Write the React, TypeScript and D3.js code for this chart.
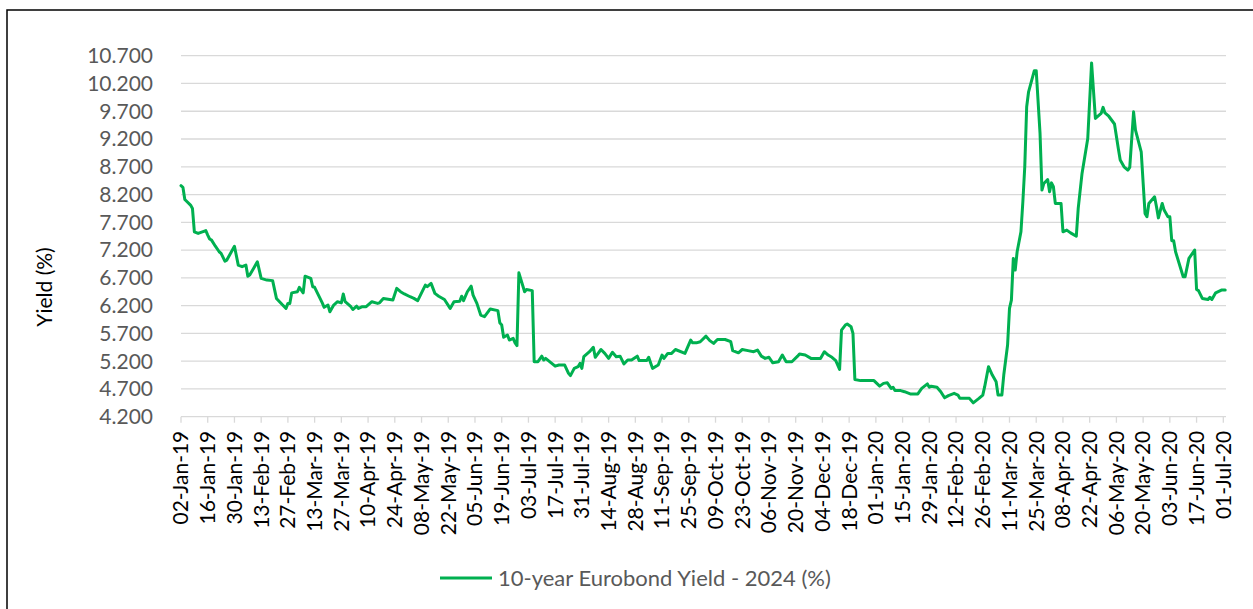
import React from "react";
import * as d3 from "d3";

// 10-year Eurobond (2024) yield, % — sampled closes
const obsDates: string[] = [
  "2019-01-02","2019-01-03","2019-01-04","2019-01-07","2019-01-08","2019-01-09","2019-01-11","2019-01-15","2019-01-16","2019-01-17",
  "2019-01-18","2019-01-20","2019-01-22","2019-01-23","2019-01-25","2019-01-26","2019-01-30","2019-02-01","2019-02-03","2019-02-05",
  "2019-02-06","2019-02-07","2019-02-09","2019-02-11","2019-02-13","2019-02-16","2019-02-19","2019-02-21","2019-02-24","2019-02-26",
  "2019-02-27","2019-02-28","2019-03-01","2019-03-04","2019-03-05","2019-03-07","2019-03-08","2019-03-11","2019-03-12","2019-03-13",
  "2019-03-15","2019-03-17","2019-03-18","2019-03-20","2019-03-21","2019-03-23","2019-03-25","2019-03-27","2019-03-28","2019-03-29",
  "2019-04-01","2019-04-02","2019-04-04","2019-04-05","2019-04-07","2019-04-09","2019-04-12","2019-04-15","2019-04-16","2019-04-18",
  "2019-04-23","2019-04-25","2019-04-27","2019-04-29","2019-05-02","2019-05-04","2019-05-06","2019-05-10","2019-05-11","2019-05-13",
  "2019-05-15","2019-05-17","2019-05-20","2019-05-23","2019-05-25","2019-05-28","2019-05-29","2019-05-30","2019-06-01","2019-06-03",
  "2019-06-04","2019-06-06","2019-06-08","2019-06-10","2019-06-13","2019-06-17","2019-06-18","2019-06-19","2019-06-20","2019-06-22",
  "2019-06-23","2019-06-25","2019-06-26","2019-06-27","2019-06-28","2019-07-01","2019-07-02","2019-07-05","2019-07-06","2019-07-08",
  "2019-07-10","2019-07-11","2019-07-12","2019-07-17","2019-07-19","2019-07-22","2019-07-24","2019-07-25","2019-07-27","2019-07-29",
  "2019-07-30","2019-07-31","2019-08-01","2019-08-04","2019-08-06","2019-08-07","2019-08-10","2019-08-12","2019-08-14","2019-08-16",
  "2019-08-18","2019-08-20","2019-08-22","2019-08-24","2019-08-26","2019-08-29","2019-08-30","2019-09-03","2019-09-04","2019-09-06",
  "2019-09-09","2019-09-11","2019-09-12","2019-09-14","2019-09-16","2019-09-18","2019-09-23","2019-09-26","2019-09-27","2019-09-29",
  "2019-10-01","2019-10-04","2019-10-06","2019-10-08","2019-10-10","2019-10-14","2019-10-17","2019-10-18","2019-10-21","2019-10-23",
  "2019-10-26","2019-10-29","2019-10-31","2019-11-02","2019-11-04","2019-11-06","2019-11-08","2019-11-11","2019-11-13","2019-11-15",
  "2019-11-18","2019-11-21","2019-11-22","2019-11-25","2019-11-28","2019-12-03","2019-12-05","2019-12-07","2019-12-09","2019-12-11",
  "2019-12-13","2019-12-14","2019-12-16","2019-12-17","2019-12-19","2019-12-20","2019-12-21","2019-12-24","2019-12-31","2020-01-03",
  "2020-01-05","2020-01-07","2020-01-09","2020-01-10","2020-01-11","2020-01-14","2020-01-16","2020-01-19","2020-01-23","2020-01-25",
  "2020-01-28","2020-01-29","2020-01-30","2020-02-02","2020-02-04","2020-02-06","2020-02-08","2020-02-11","2020-02-13","2020-02-14",
  "2020-02-19","2020-02-21","2020-02-24","2020-02-26","2020-02-27","2020-02-29","2020-03-02","2020-03-04","2020-03-05","2020-03-07",
  "2020-03-08","2020-03-10","2020-03-11","2020-03-12","2020-03-13","2020-03-14","2020-03-15","2020-03-17","2020-03-18","2020-03-19",
  "2020-03-20","2020-03-21","2020-03-24","2020-03-25","2020-03-27","2020-03-28","2020-03-29","2020-03-31","2020-04-01","2020-04-02",
  "2020-04-03","2020-04-04","2020-04-07","2020-04-08","2020-04-10","2020-04-12","2020-04-15","2020-04-16","2020-04-18","2020-04-21",
  "2020-04-23","2020-04-25","2020-04-28","2020-04-29","2020-04-30","2020-05-02","2020-05-05","2020-05-07","2020-05-08","2020-05-10",
  "2020-05-12","2020-05-13","2020-05-15","2020-05-16","2020-05-19","2020-05-21","2020-05-22","2020-05-23","2020-05-26","2020-05-27",
  "2020-05-28","2020-05-30","2020-05-31","2020-06-02","2020-06-03","2020-06-04","2020-06-05","2020-06-06","2020-06-10","2020-06-11",
  "2020-06-13","2020-06-16","2020-06-17","2020-06-18","2020-06-20","2020-06-23","2020-06-24","2020-06-25","2020-06-27","2020-06-30",
  "2020-07-02",
];

const yieldValues: number[] = [
  8.36,8.33,8.11,8.01,7.95,7.53,7.50,7.55,7.47,7.40,
  7.38,7.27,7.17,7.14,7.00,7.02,7.27,6.93,6.90,6.93,
  6.73,6.75,6.87,6.99,6.69,6.66,6.65,6.33,6.22,6.15,
  6.24,6.24,6.43,6.45,6.53,6.43,6.73,6.69,6.54,6.53,
  6.39,6.25,6.17,6.21,6.09,6.21,6.27,6.25,6.41,6.27,
  6.18,6.13,6.19,6.15,6.18,6.18,6.27,6.24,6.25,6.33,
  6.30,6.51,6.45,6.41,6.36,6.33,6.29,6.57,6.54,6.60,
  6.42,6.37,6.31,6.15,6.27,6.28,6.37,6.29,6.45,6.55,
  6.39,6.24,6.03,6.00,6.14,6.11,5.89,5.85,5.63,5.67,
  5.58,5.61,5.53,5.48,6.79,6.45,6.49,6.47,5.19,5.19,
  5.29,5.22,5.25,5.11,5.13,5.13,4.98,4.94,5.07,5.10,
  5.16,5.07,5.28,5.37,5.45,5.27,5.41,5.34,5.25,5.36,
  5.28,5.29,5.15,5.22,5.22,5.29,5.21,5.21,5.27,5.07,
  5.13,5.31,5.25,5.34,5.34,5.41,5.34,5.58,5.53,5.53,
  5.55,5.65,5.57,5.52,5.59,5.59,5.55,5.39,5.35,5.41,
  5.39,5.37,5.40,5.29,5.25,5.27,5.17,5.19,5.31,5.19,
  5.19,5.29,5.33,5.31,5.25,5.25,5.37,5.31,5.27,5.21,
  5.05,5.76,5.85,5.87,5.82,5.70,4.87,4.85,4.85,4.75,
  4.80,4.81,4.71,4.73,4.67,4.67,4.65,4.61,4.61,4.71,
  4.79,4.73,4.75,4.73,4.65,4.54,4.58,4.62,4.59,4.53,
  4.53,4.45,4.53,4.59,4.74,5.10,4.95,4.83,4.59,4.59,
  4.95,5.49,6.15,6.30,7.05,6.84,7.17,7.53,8.07,8.70,
  9.78,10.05,10.43,10.43,9.30,8.28,8.40,8.47,8.25,8.41,
  8.34,8.04,8.04,7.53,7.56,7.51,7.45,7.95,8.58,9.21,
  10.57,9.57,9.66,9.77,9.67,9.61,9.47,9.03,8.82,8.70,
  8.64,8.69,9.69,9.36,8.97,7.86,7.80,8.04,8.16,7.98,
  7.78,8.04,7.92,7.80,7.80,7.37,7.37,7.17,6.72,6.72,
  7.05,7.20,6.49,6.47,6.33,6.31,6.35,6.31,6.43,6.48,
  6.48,
];

const yTickValues: number[] = [4.2, 4.7, 5.2, 5.7, 6.2, 6.7, 7.2, 7.7, 8.2, 8.7, 9.2, 9.7, 10.2, 10.7];
const firstTick = "2019-01-02";
const lastTick = "2020-07-01";
const tickStepDays = 14;

const seriesName = "10-year Eurobond Yield - 2024 (%)";
const yTitle = "Yield (%)";

const W = 1253;
const H = 609;
const FONT = "Lato, 'Open Sans', sans-serif";
const GREEN = "#00B050";
const GRID = "#D9D9D9";

export default function App() {
  const parse = d3.utcParse("%Y-%m-%d");
  const data = obsDates.map((d, i) => ({ date: parse(d) as Date, value: yieldValues[i] }));
  const t0 = parse(firstTick) as Date;
  const t1 = parse(lastTick) as Date;

  const x = d3.scaleUtc().domain([t0, t1]).range([181, 1223.3]);
  const y = d3.scaleLinear().domain([4.2, 10.7]).range([416.7, 55.7]);

  const nTicks = Math.round(d3.utcDay.count(t0, t1) / tickStepDays) + 1;
  const xTicks = d3.range(nTicks).map((i) => d3.utcDay.offset(t0, i * tickStepDays));
  const fmtX = d3.utcFormat("%d-%b-%y");
  const fmtY = d3.format(".3f");

  const line = d3
    .line<{ date: Date; value: number }>()
    .x((d) => x(d.date))
    .y((d) => y(d.value));

  const plotLeft = x.range()[0];
  const plotRight = 1226;
  const base = y.range()[0];

  return (
    <svg
      width={W}
      height={H}
      style={{ position: "absolute", left: 0, top: 0, background: "#fff" }}
      fontFamily={FONT}
    >
      <rect x={0} y={0} width={W} height={H} fill="#fff" />
      {/* chart frame */}
      <rect x={7} y={10} width={W + 20} height={H + 20} fill="none" stroke="#000" strokeWidth={1.5} />

      {/* horizontal gridlines */}
      {yTickValues.slice(1).map((v) => (
        <line key={v} x1={plotLeft} x2={plotRight} y1={y(v)} y2={y(v)} stroke={GRID} strokeWidth={1.3} />
      ))}

      {/* x axis */}
      <line x1={plotLeft} x2={plotRight} y1={base} y2={base} stroke={GRID} strokeWidth={1.3} />
      {xTicks.map((t, i) => (
        <line key={i} x1={x(t)} x2={x(t)} y1={base} y2={base + 6} stroke={GRID} strokeWidth={1.3} />
      ))}
      {xTicks.map((t, i) => (
        <text
          key={i}
          transform={`translate(${x(t)},${base + 14}) rotate(-90)`}
          textAnchor="end"
          dy="0.35em"
          fontSize={21}
          fill="#000"
        >
          {fmtX(t)}
        </text>
      ))}

      {/* y axis labels */}
      {yTickValues.map((v) => (
        <text key={v} x={153} y={y(v)} dy="0.35em" textAnchor="end" fontSize={21} fill="#595959">
          {fmtY(v)}
        </text>
      ))}
      <text
        transform={`translate(45,287) rotate(-90)`}
        textAnchor="middle"
        dy="0.35em"
        fontSize={21}
        fill="#000"
      >
        {yTitle}
      </text>

      {/* series */}
      <path d={line(data) ?? ""} fill="none" stroke={GREEN} strokeWidth={3} strokeLinejoin="round" strokeLinecap="round" />

      {/* legend */}
      <line x1={440} x2={492} y1={578} y2={578} stroke={GREEN} strokeWidth={3} />
      <text x={498} y={578} dy="0.35em" fontSize={22} fill="#595959">
        {seriesName}
      </text>
    </svg>
  );
}
